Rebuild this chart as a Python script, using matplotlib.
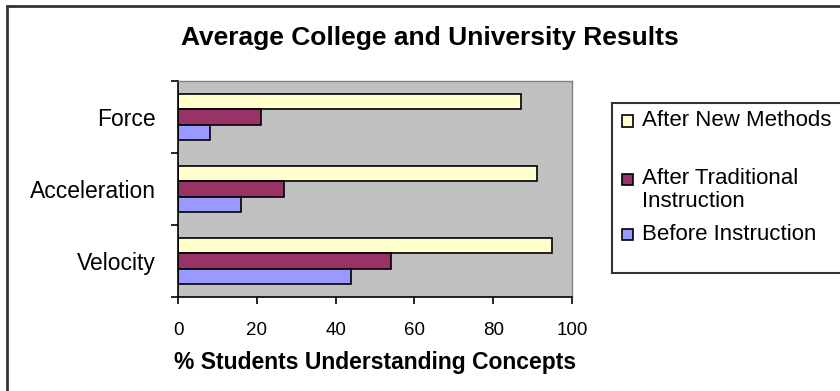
import numpy as np
import matplotlib.pyplot as plt
from matplotlib.patches import Rectangle

categories = ['Velocity', 'Acceleration', 'Force']
series_labels = ['After New Methods', 'After Traditional\nInstruction', 'Before Instruction']
after_new = [95, 91, 87]
after_traditional = [54, 27, 21]
before = [44, 16, 8]
colors = ['#FFFFCC', '#993366', '#9999FF']
x_ticks = [0, 20, 40, 60, 80, 100]

plt.rcParams['font.family'] = ['Liberation Sans', 'DejaVu Sans']

fig = plt.figure(figsize=(8.4, 3.91), dpi=100)
W, H = 840, 391

# outer chart border (right and bottom run off the picture)
fig.patches.append(Rectangle((7 / W, -0.1), 1.2, 1 - 6 / H + 0.1, transform=fig.transFigure,
                             fill=False, edgecolor='#333333', linewidth=2))

ax = fig.add_axes([178 / W, 1 - 297 / H, (572 - 178) / W, (297 - 81) / H])
ax.set_facecolor('#C0C0C0')

y = np.arange(len(categories))
h = 0.215
series = [after_new, after_traditional, before]
offsets = [h, 0, -h]
for vals, off, c in zip(series, offsets, colors):
    ax.barh(y + off, vals, height=h, color=c, edgecolor='black', linewidth=1.2)

ax.set_xlim(0, 100)
ax.set_ylim(-0.5, len(categories) - 0.5)
ax.set_xticks(x_ticks)
ax.set_xticklabels([str(t) for t in x_ticks], fontsize=13.5)
ax.set_yticks(y)
ax.set_yticklabels(categories, fontsize=16.5)
ax.set_yticks(np.arange(-0.5, len(categories)), minor=True)
ax.tick_params(axis='y', which='major', length=0, pad=16)
ax.tick_params(axis='y', which='minor', length=5, width=1.2, direction='out')
ax.tick_params(axis='x', length=5, width=1.2, direction='out', pad=13)
for s in ['left', 'bottom']:
    ax.spines[s].set_color('black')
    ax.spines[s].set_linewidth(1.2)
for s in ['top', 'right']:
    ax.spines[s].set_color('#808080')
    ax.spines[s].set_linewidth(1.0)

ax.set_xlabel('% Students Understanding Concepts', fontsize=16.5, fontweight='bold', labelpad=9)

fig.text(430 / W, 1 - 38 / H, 'Average College and University Results', ha='center', va='center',
         fontsize=19, fontweight='bold')

# legend box
fig.patches.append(Rectangle((612 / W, 1 - 273 / H), 0.5, (273 - 103) / H, transform=fig.transFigure,
                             facecolor='white', edgecolor='#333333', linewidth=1.5))
legend_rows = [121, 190, 234]
marker_rows = [121, 179, 234]
for lab, c, ty, my in zip(series_labels, colors, legend_rows, marker_rows):
    fig.patches.append(Rectangle((622 / W, 1 - (my + 5.5) / H), 11 / W, 11 / H, transform=fig.transFigure,
                                 facecolor=c, edgecolor='black', linewidth=1.2))
    fig.text(642 / W, 1 - ty / H, lab, ha='left', va='center', fontsize=16, linespacing=1.1)

fig.savefig('out.png', dpi=100)
